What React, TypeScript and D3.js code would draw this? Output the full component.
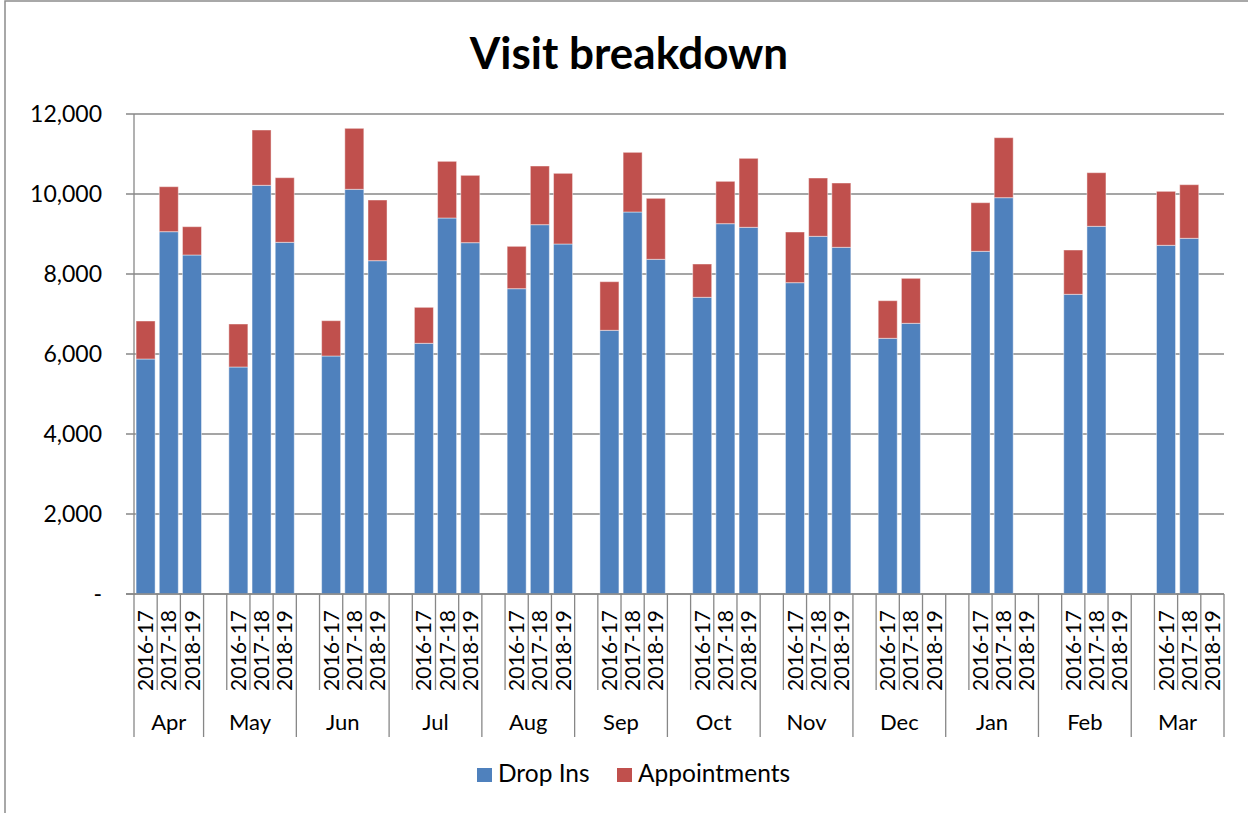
import { scaleBand, scaleLinear, stack, range } from "d3";

const months = ["Apr", "May", "Jun", "Jul", "Aug", "Sep", "Oct", "Nov", "Dec", "Jan", "Feb", "Mar"];
const years = ["2016-17", "2017-18", "2018-19"];
const seriesNames = ["Drop Ins", "Appointments"];

// per month, one array per financial year (null = no data yet)
const dropIns1617 = [5875, 5675, 5950, 6267, 7633, 6592, 7417, 7783, 6392, 8567, 7492, 8717];
const dropIns1718 = [9058, 10217, 10117, 9400, 9233, 9550, 9258, 8942, 6767, 9908, 9192, 8892];
const dropIns1819 = [8475, 8792, 8333, 8783, 8750, 8367, 9167, 8667, null, null, null, null];

const appts1617 = [950, 1075, 883, 900, 1059, 1216, 833, 1267, 941, 1216, 1108, 1350];
const appts1718 = [1125, 1383, 1525, 1417, 1467, 1492, 1059, 1458, 1125, 1500, 1341, 1341];
const appts1819 = [708, 1616, 1517, 1684, 1767, 1525, 1725, 1608, null, null, null, null];

const yTicks = [0, 2000, 4000, 6000, 8000, 10000, 12000];

const dropIns = [dropIns1617, dropIns1718, dropIns1819];
const appts = [appts1617, appts1718, appts1819];
const colors = ["#4f81bd", "#c0504d"];

type Slot = { key: string; month: number; year: number | null; drop: number; appt: number; has: boolean };

const slots: Slot[] = [];
months.forEach((m, mi) => {
  if (mi > 0) slots.push({ key: `${m}-gap`, month: mi, year: null, drop: 0, appt: 0, has: false });
  years.forEach((y, yi) => {
    const d = dropIns[yi][mi];
    const a = appts[yi][mi];
    slots.push({ key: `${m}-${y}`, month: mi, year: yi, drop: d ?? 0, appt: a ?? 0, has: d != null });
  });
});

export default function App() {
  const width = 1248;
  const height = 813;
  const left = 134;
  const right = 1224;
  const top = 114;
  const bottom = 594;
  const font = "Lato, 'Noto Sans', sans-serif";

  const x = scaleBand<string>()
    .domain(slots.map((s) => s.key))
    .range([left, right])
    .paddingInner(0.18)
    .paddingOuter(0.09);
  const step = x.step();
  const slotLeft = (key: string) => (x(key) ?? 0) - step * 0.09;

  const y = scaleLinear().domain([0, 12000]).range([bottom, top]);

  const stacked = stack<Slot>()
    .keys(["drop", "appt"])
    .value((d, k) => (d as any)[k])(slots);

  // month spans
  const monthSpans = months.map((m, mi) => {
    const ms = slots.filter((s) => s.month === mi);
    const x0 = slotLeft(ms[0].key);
    const x1 = slotLeft(ms[ms.length - 1].key) + step;
    return { m, x0, x1 };
  });

  return (
    <svg
      width={width}
      height={height}
      viewBox={`0 0 ${width} ${height}`}
      style={{ position: "absolute", left: 0, top: 0, background: "#fff" }}
      fontFamily={font}
    >
      <rect x={5} y={1} width={width + 20} height={height + 20} fill="#fff" stroke="#8c8c8c" strokeWidth={1.5} />

      <text x={629} y={69} textAnchor="middle" fontSize={44} fontWeight={700} fill="#000">
        Visit breakdown
      </text>

      {yTicks.map((t) => (
        <g key={t}>
          <line x1={126} x2={right} y1={y(t)} y2={y(t)} stroke="#878787" strokeWidth={1.3} />
          <text x={102} y={y(t)} dy="0.36em" textAnchor="end" fontSize={23} fill="#000">
            {t === 0 ? "-" : t.toLocaleString("en-US")}
          </text>
        </g>
      ))}

      {stacked.map((layer, li) => (
        <g key={seriesNames[li]} fill={colors[li]}>
          {layer.map((d, i) =>
            slots[i].has ? (
              <rect
                key={slots[i].key}
                x={x(slots[i].key)}
                y={y(d[1])}
                width={x.bandwidth()}
                height={y(d[0]) - y(d[1])}
                stroke="#ffffff"
                strokeOpacity={0.45}
                strokeWidth={1}
              />
            ) : null
          )}
        </g>
      ))}

      <line x1={left} x2={left} y1={top} y2={bottom} stroke="#878787" strokeWidth={1.3} />
      <line x1={126} x2={right} y1={bottom} y2={bottom} stroke="#878787" strokeWidth={1.3} />

      {slots
        .filter((s) => s.year !== null)
        .map((s) => {
          const isMonthStart = s.month === 0 && s.year === 0;
          const cx = (x(s.key) ?? 0) + x.bandwidth() / 2;
          return (
            <g key={s.key}>
              {!isMonthStart && (
                <line x1={slotLeft(s.key)} x2={slotLeft(s.key)} y1={bottom} y2={690} stroke="#878787" strokeWidth={1.3} />
              )}
              <text
                transform={`translate(${cx},${610}) rotate(-90)`}
                dy="0.36em"
                textAnchor="end"
                fontSize={21}
                fill="#000"
              >
                {years[s.year as number]}
              </text>
            </g>
          );
        })}

      {monthSpans.map((ms, i) => (
        <g key={ms.m}>
          <line x1={ms.x0} x2={ms.x0} y1={bottom} y2={737} stroke="#878787" strokeWidth={1.3} />
          {i === monthSpans.length - 1 && (
            <line x1={ms.x1} x2={ms.x1} y1={bottom} y2={737} stroke="#878787" strokeWidth={1.3} />
          )}
          <text x={(ms.x0 + ms.x1) / 2} y={730} textAnchor="middle" fontSize={22} fill="#000">
            {ms.m}
          </text>
        </g>
      ))}

      {range(seriesNames.length).map((i) => {
        const lx = [477, 617][i];
        return (
          <g key={seriesNames[i]}>
            <rect x={lx} y={768} width={15} height={14} fill={colors[i]} />
            <text x={lx + 21} y={782} fontSize={24.5} fill="#000">
              {seriesNames[i]}
            </text>
          </g>
        );
      })}
    </svg>
  );
}
